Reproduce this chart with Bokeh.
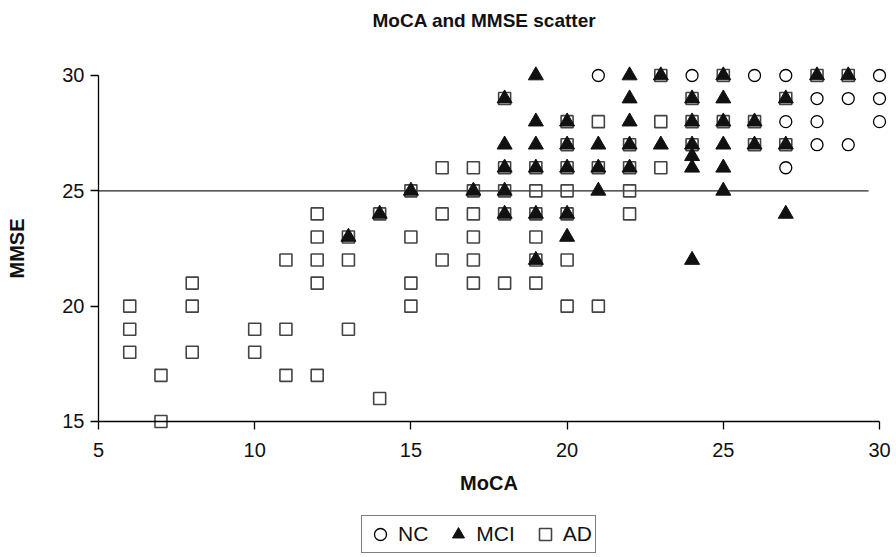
from bokeh.plotting import figure
from bokeh.models import Range1d, FixedTicker, Legend, LegendItem
from bokeh.embed import file_html
from bokeh.resources import INLINE

# ---- data ----
nc_moca = [21, 24, 26, 27, 30, 28, 29, 30, 27, 28, 30, 28, 29, 27]
nc_mmse = [30, 30, 30, 30, 30, 29, 29, 29, 28, 28, 28, 27, 27, 26]

mci_moca = [13, 14, 15, 17, 18, 18, 18, 18, 18, 19, 19, 19, 19, 19, 19,
            20, 20, 20, 20, 20, 21, 21, 21, 22, 22, 22, 22, 22, 23, 23,
            24, 24, 24, 24, 24, 24, 25, 25, 25, 25, 25, 25, 26, 26, 27,
            27, 27, 28, 29]
mci_mmse = [23, 24, 25, 25, 29, 27, 26, 25, 24, 30, 28, 27, 26, 24, 22,
            28, 27, 26, 24, 23, 27, 26, 25, 30, 29, 28, 27, 26, 30, 27,
            29, 28, 27, 26.5, 26, 22, 30, 29, 28, 27, 26, 25, 28, 27, 29,
            27, 24, 30, 30]

ad_moca = [6, 6, 6, 7, 7, 8, 8, 8, 10, 10, 11, 11, 11, 12, 12, 12, 12, 12,
           13, 13, 13, 14, 14, 15, 15, 15, 15, 16, 16, 16,
           17, 17, 17, 17, 17, 17, 18, 18, 18, 18, 18,
           19, 19, 19, 19, 19, 19, 20, 20, 20, 20, 20, 20, 20,
           21, 21, 21, 22, 22, 22, 22, 23, 23, 23, 24, 24, 24,
           25, 25, 26, 26, 27, 27, 28, 29]
ad_mmse = [20, 19, 18, 17, 15, 21, 20, 18, 19, 18, 22, 19, 17, 24, 23, 22, 21, 17,
           23, 22, 19, 24, 16, 25, 23, 21, 20, 26, 24, 22,
           26, 25, 24, 23, 22, 21, 29, 26, 25, 24, 21,
           26, 25, 24, 23, 22, 21, 28, 27, 26, 25, 24, 22, 20,
           28, 26, 20, 27, 26, 25, 24, 30, 28, 26, 29, 28, 27,
           30, 28, 28, 27, 29, 27, 30, 30]

cutoff_x = [5, 29.65]
cutoff_y = [25, 25]

x_ticks = [5, 10, 15, 20, 25, 30]
y_ticks = [15, 20, 25, 30]

FONT = "Liberation Sans"

# frame covers the whole area left of / below the axes so that the
# fixed-location axes and the legend are drawn inside it
p = figure(width=896, height=557, output_backend="svg", toolbar_location=None,
           x_range=Range1d(1.863, 30.544), y_range=Range1d(9.104, 31.647),
           min_border_left=0, min_border_right=0, min_border_top=37,
           min_border_bottom=0, title="MoCA and MMSE scatter")
p.outline_line_color = None
p.grid.visible = False
p.background_fill_color = "white"

p.title.align = "left"
p.title.offset = 372
p.title.standoff = 13
p.title.text_font = FONT
p.title.text_font_size = "19px"
p.title.text_font_style = "bold"
p.title.text_color = "#111111"

# axes
for ax in (p.xaxis[0], p.yaxis[0]):
    ax.axis_line_color = "black"
    ax.axis_line_width = 1.3
    ax.major_tick_line_color = "black"
    ax.major_tick_line_width = 1.3
    ax.major_tick_in = 0
    ax.major_tick_out = 8
    ax.minor_tick_line_color = None
    ax.major_label_text_font = FONT
    ax.major_label_text_font_size = "20px"
    ax.major_label_text_color = "#111111"
    ax.axis_label_text_font = FONT
    ax.axis_label_text_font_size = "20px"
    ax.axis_label_text_font_style = "bold"
    ax.axis_label_text_color = "#111111"

p.xaxis.ticker = FixedTicker(ticks=x_ticks)
p.yaxis.ticker = FixedTicker(ticks=y_ticks)
p.xaxis.bounds = (5, 30)
p.yaxis.bounds = (15, 30)
p.xaxis.fixed_location = 15
p.yaxis.fixed_location = 5
p.xaxis.axis_label = "MoCA"
p.yaxis.axis_label = "MMSE"
p.xaxis.major_label_standoff = 14
p.xaxis.axis_label_standoff = 11
p.yaxis.major_label_standoff = 6
p.yaxis.axis_label_standoff = 31

# cutoff line
p.line(cutoff_x, cutoff_y, line_color="#222222", line_width=1.3)

r_nc = p.scatter(nc_moca, nc_mmse, marker="circle", size=12, fill_color=None,
                 line_color="black", line_width=1.3)
r_ad = p.scatter(ad_moca, ad_mmse, marker="square", size=12, fill_color=None,
                 line_color="#444444", line_width=1.6)
r_mci = p.scatter(mci_moca, mci_mmse, marker="triangle", size=15, fill_color="#111111",
                  line_color="#111111", line_width=1)

legend = Legend(items=[LegendItem(label="NC", renderers=[r_nc]),
                       LegendItem(label="MCI", renderers=[r_mci]),
                       LegendItem(label="AD", renderers=[r_ad])],
                orientation="horizontal", location=(361, 4))
legend.border_line_color = "black"
legend.border_line_width = 1.5
legend.background_fill_color = "white"
legend.background_fill_alpha = 1
legend.label_text_font = FONT
legend.label_text_font_size = "21px"
legend.label_text_color = "#111111"
legend.padding = 3
legend.margin = 0
legend.spacing = 15
legend.glyph_width = 30
legend.glyph_height = 30
legend.label_standoff = 3
legend.label_height = 21
legend.click_policy = "none"
p.add_layout(legend, "center")

open("out.html", "w").write(file_html(p, INLINE))
